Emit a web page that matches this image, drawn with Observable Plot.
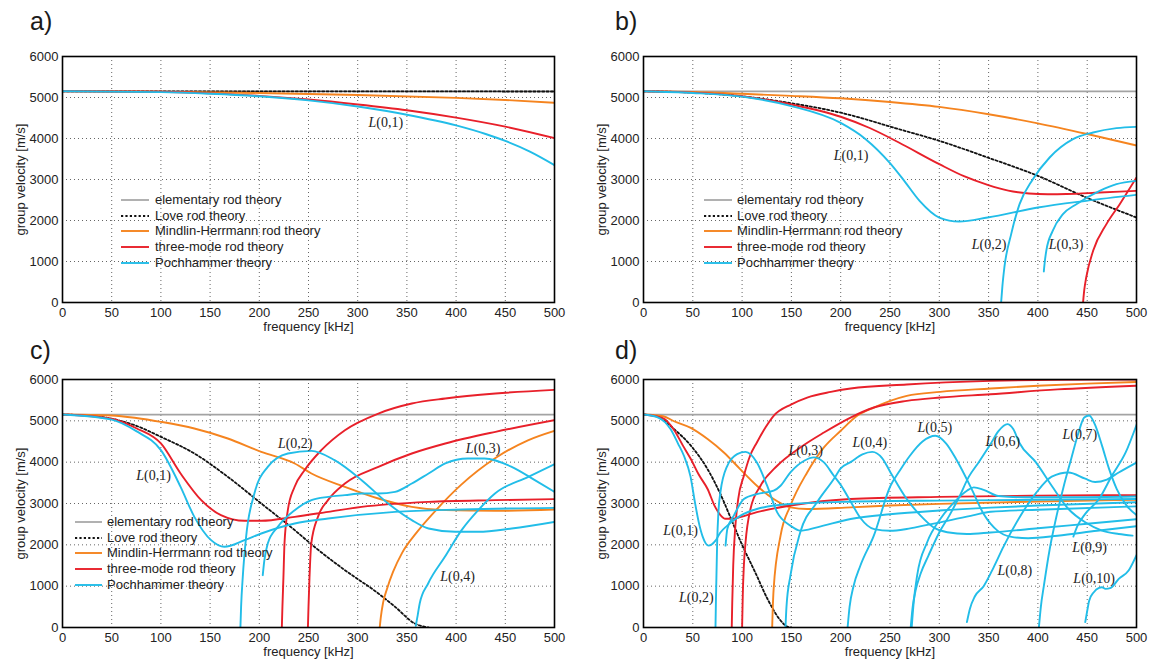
<!DOCTYPE html>
<html><head><meta charset="utf-8">
<script src="https://cdn.jsdelivr.net/npm/d3@7"></script>
<script src="https://cdn.jsdelivr.net/npm/@observablehq/plot@0.6"></script>
<style>
body{margin:0;background:#fff;font-family:"Liberation Sans",Arial,sans-serif;}
#fig{position:relative;width:1155px;height:664px;overflow:hidden;background:#fff;}
.panel{position:absolute;}
.plab{position:absolute;font-size:25px;color:#1a1a1a;line-height:1;}
.lrow{position:absolute;white-space:nowrap;font-size:13px;color:#222;height:16px;line-height:16px;}
.lrow svg{position:absolute;left:0;top:0;}
.lrow span{position:absolute;top:0;}
</style></head><body><div id="fig"></div>
<script>
// ---------- ticks & categories ----------
const xTicks = [0,50,100,150,200,250,300,350,400,450,500];
const yTicks = [0,1000,2000,3000,4000,5000,6000];
const theories = ["elementary rod theory","Love rod theory","Mindlin-Herrmann rod theory","three-mode rod theory","Pochhammer theory"];
const colors = ["#a3a3a3","#111111","#f5841f","#e8202a","#22bde8"];
const panelNames = ["a)","b)","c)","d)"];

// ---------- panel a: [frequency kHz, group velocity m/s] ----------
const A_elem = [[0,5150],[500,5150]];
const A_love = [[0,5152],[250,5150],[500,5146]];
const A_mh = [[0,5152],[100,5142],[200,5110],[300,5060],[400,4990],[450,4940],[500,4870]];
const A_three = [[0,5152],[100,5140],[150,5100],[200,5040],[250,4950],[300,4830],[350,4690],[400,4510],[450,4290],[500,4010]];
const A_poch = [[0,5152],[100,5130],[150,5090],[200,5030],[250,4930],[300,4780],[350,4580],[400,4320],[430,4110],[450,3940],[475,3680],[500,3350]];
const A_labels = [{f:329,v:4380,n:"(0,1)"}];

// ---------- panel b ----------
const B_elem = [[0,5150],[500,5150]];
const B_love = [[0,5152],[50,5120],[100,5030],[150,4860],[200,4630],[259,4228],[300,3943],[349,3537],[400,3089],[449,2561],[500,2073]];
const B_mh = [[0,5152],[50,5135],[100,5090],[150,5040],[200,4980],[250,4890],[300,4770],[350,4590],[400,4370],[450,4110],[500,3830]];
const B_three1 = [[0,5152],[50,5120],[100,5030],[150,4830],[200,4530],[230,4250],[259,3902],[300,3374],[325,3080],[349,2870],[370,2730],[391,2660],[410,2640],[429,2645],[463,2683],[500,2724]];
const B_three2 = [[445.8,0],[447,300],[449,610],[456,1260],[469.5,1911],[483,2398],[500,3049]];
const B_poch1 = [[0,5152],[50,5110],[100,5020],[150,4790],[200,4380],[225,3990],[250,3400],[265,2950],[280,2480],[300,2073],[320,1976],[349,2073],[400,2317],[449,2480],[500,2626]];
const B_poch2 = [[362.7,0],[364,400],[366,854],[372.9,1667],[381.4,2398],[394.9,3008],[411.9,3537],[435.6,3984],[456,4146],[479.7,4252],[500,4285]];
const B_poch3 = [[406,756],[407,1000],[408.5,1260],[415,1748],[425.4,2154],[439,2398],[462.7,2724],[479.7,2886],[500,2967]];
const B_labels = [{f:211,v:3585,n:"(0,1)"},{f:351,v:1420,n:"(0,2)"},{f:429,v:1420,n:"(0,3)"}];

// ---------- panel c ----------
const C_elem = [[0,5150],[500,5150]];
const C_love = [[0,5152],[25,5130],[50,5050],[75,4880],[100,4613],[134,4210],[168,3645],[202,3000],[236,2355],[256,1952],[287,1387],[321,823],[338,500],[358,97],[372,0]];
const C_mh1 = [[0,5152],[50,5130],[75,5070],[100,4976],[134,4815],[168,4573],[202,4250],[236,3968],[253,3726],[287,3403],[321,3121],[355,2919],[389,2839],[440,2823],[500,2855]];
const C_mh2 = [[322.4,0],[323.5,250],[325.8,600],[330,950],[336,1350],[345,1800],[360,2300],[380,2850],[405,3450],[440,4100],[473,4530],[500,4760]];
const C_three1 = [[0,5152],[50,5050],[75,4820],[100,4452],[120,3726],[141,3081],[161,2718],[185,2581],[202,2581],[236,2677],[270,2798],[304,2919],[372,3040],[440,3081],[500,3105]];
const C_three2 = [[222.9,0],[223.5,500],[224.5,1200],[225.6,2032],[229,2840],[235.8,3400],[246,3806],[263,4290],[287,4774],[321,5177],[355,5419],[389,5540],[440,5661],[500,5750]];
const C_three3 = [[249.4,0],[250,500],[251,1200],[252.8,2032],[259.6,2677],[269.8,3081],[287,3484],[321,3887],[355,4210],[389,4452],[440,4734],[500,5016]];
const C_poch1 = [[0,5152],[50,5030],[75,4750],[100,4290],[120,3403],[134,2677],[151,2113],[164.5,1952],[185,2113],[202,2274],[236,2516],[270,2637],[338,2798],[406,2855],[500,2895]];
const C_poch2 = [[180.8,0],[181.5,500],[183.2,1226],[186.6,2194],[195,3242],[208.6,3887],[229,4210],[253,4274],[276.5,4048],[304,3565],[331,3000],[355,2597],[372,2395],[399,2315],[422.5,2315],[456.5,2395],[500,2556]];
const C_poch3 = [[203.5,1266],[205,1600],[208.6,2032],[218.8,2435],[236,2839],[253,3081],[270,3161],[287,3202],[304,3242],[321,3242],[338,3282],[355,3484],[372,3726],[389,3968],[412,4089],[429,4089],[456.5,3887],[480,3565],[500,3282]];
const C_poch4 = [[359,40],[361,300],[363,581],[371.6,1065],[388.6,1710],[405.6,2355],[422.5,2839],[439.5,3242],[473.4,3645],[500,3952]];
const C_labels = [{f:93,v:3675,n:"(0,1)"},{f:237,v:4450,n:"(0,2)"},{f:428,v:4330,n:"(0,3)"},{f:402,v:1240,n:"(0,4)"}];

// ---------- panel d ----------
const D_elem = [[0,5150],[500,5150]];
const D_love = [[0,5152],[15,5100],[31,4800],[48,4400],[65,3830],[78,3230],[90,2560],[100,2000],[113,1350],[126,680],[138,200],[146,20],[150,0]];
const D_mh1 = [[0,5152],[20,5110],[31,4990],[48,4830],[65,4560],[81.5,4235],[98,3833],[115,3430],[132,3108],[149,2907],[166,2867],[210,2907],[250,2950],[300,2990],[400,3050],[500,3090]];
const D_mh2 = [[130.5,0],[131,400],[132,935],[139,2223],[149,2948],[166,3752],[183,4356],[200,4759],[216.7,5121],[233.6,5322],[267,5604],[301,5701],[352,5781],[400,5850],[450,5900],[500,5940]];
const D_three1 = [[0,5152],[20,5060],[31,4780],[40,4400],[48,4075],[56,3700],[65,3350],[72,2950],[78,2720],[83,2630],[90,2630],[98,2670],[115,2790],[149,2950],[210,3110],[300,3160],[400,3190],[500,3200]];
const D_three2 = [[89.5,0],[90,600],[91,1500],[93,2400],[96,3100],[101.8,3672],[108,4150],[115,4477],[124,4850],[132,5121],[150,5400],[166,5564],[190,5700],[210,5781],[267,5880],[352,5966],[420,5995],[500,6000]];
const D_three3 = [[100,0],[100.7,800],[101.8,1500],[103.5,2062],[108.5,2867],[118.7,3430],[135.6,3914],[159,4356],[183,4718],[210,5080],[233.6,5322],[267,5483],[301,5564],[352,5644],[420,5760],[500,5850]];
const D_poch1 = [[0,5152],[15,5080],[27.4,4800],[35,4450],[41,4155],[47.7,3650],[52,3050],[56,2550],[60,2200],[66,1980],[73,2100],[78,2300],[85,2465],[98.4,2706],[115,2867],[149,2988],[210,3044],[300,3070],[400,3090],[500,3110]];
const D_poch2 = [[73,0],[73.5,700],[74.7,2062],[76,2800],[78,3270],[85,3913],[95,4195],[103.5,4250],[115,3994],[125.4,3430],[135.6,2786],[149,2465],[159,2344],[176,2424],[210,2625],[250,2740],[300,2830],[352,2900],[400,2950],[500,3030]];
const D_poch3 = [[83.2,1980],[85,2384],[91.6,2706],[101.8,3108],[115,3229],[132,3310],[139,3430],[149,3752],[163,4034],[173,4115],[183,3994],[193,3672],[200,3450],[210,3050],[220,2650],[234,2380],[250,2340],[267,2384],[284,2465],[301,2545],[335,2720],[352,2800],[400,2850],[500,2930]];
const D_poch4 = [[144,0],[145,500],[149,1257],[159,2304],[176,3028],[193,3592],[200,3850],[210,4000],[222,4190],[232,4250],[242,4100],[250.5,3752],[267,3108],[281,2706],[294,2425],[308,2304],[328,2263],[352,2300],[400,2400],[450,2510],[500,2620]];
const D_poch5 = [[207,0],[209,500],[213,1000],[220,1500],[233.6,2223],[250.5,3430],[260,3800],[270,4150],[283,4500],[296,4638],[307,4450],[318,4034],[332,3390],[345,2746],[359,2344],[372,2200],[390,2160],[420,2220],[460,2340],[500,2450]];
const D_poch6 = [[271,0],[273,500],[276,900],[281,1300],[289,1740],[300,2300],[310,2700],[320,3150],[330,3650],[340,4000],[352,4440],[360,4750],[369,4920],[375,4800],[381,4477],[398,3994],[414,3430],[431,2867],[448,2545],[465,2344],[482,2263],[496,2223]];
const D_poch6b = [[272,0],[274,600],[277.5,1257],[287.7,2062],[301,2626],[315,3028],[328,3310],[335,3390],[345,3330],[360,3180],[387,3150],[430,3150],[500,3170]];
const D_poch7 = [[401,0],[403,500],[406,1000],[412,1900],[418,2600],[426,3400],[434,4100],[441,4700],[447,5080],[452,5130],[458,4900],[465,4400],[472,3850],[480,3350],[490,2950],[500,2720]];
const D_poch8 = [[328,130],[331,450],[336,750],[345,1000],[355,1450],[365,1950],[381,2650],[398,3250],[414,3650],[431,3750],[448,3600],[458,3520],[470,3580],[482,3750],[500,3990]];
const D_poch9 = [[436,2200],[440,2450],[448,2750],[462,3108],[475,3672],[489,4235],[500,4900]];
const D_poch10 = [[448,130],[450,400],[452,650],[456.7,854],[462,960],[465,975],[468.5,935],[474,960],[482,1177],[492,1378],[500,1750]];
const D_labels = [{f:38,v:2350,n:"(0,1)"},{f:54,v:720,n:"(0,2)"},{f:165,v:4270,n:"(0,3)"},{f:230,v:4480,n:"(0,4)"},{f:296,v:4840,n:"(0,5)"},{f:365,v:4500,n:"(0,6)"},{f:443,v:4680,n:"(0,7)"},{f:377,v:1380,n:"(0,8)"},{f:453,v:1940,n:"(0,9)"},{f:454,v:1180,n:"(0,10)"}];

// ---------- panel composition ----------
const panels = [
  {name:"a)", left:0, top:0, w:577, h:332, mt:56, mb:30, ml:62, mr:23,
   curves:[[A_elem],[A_love],[A_mh],[A_three],[A_poch]], labels:A_labels, legend:{x:121, len:28, tx:155, y:200}},
  {name:"b)", left:577, top:0, w:578, h:332, mt:56, mb:30, ml:66, mr:19,
   curves:[[B_elem],[B_love],[B_mh],[B_three1,B_three2],[B_poch1,B_poch2,B_poch3]], labels:B_labels, legend:{x:704, len:28, tx:737, y:200}},
  {name:"c)", left:0, top:332, w:577, h:332, mt:47, mb:37, ml:62, mr:23,
   curves:[[C_elem],[C_love],[C_mh1,C_mh2],[C_three1,C_three2,C_three3],[C_poch1,C_poch2,C_poch3,C_poch4]], labels:C_labels, legend:{x:75, len:27, tx:107, y:522}},
  {name:"d)", left:577, top:332, w:578, h:332, mt:47, mb:37, ml:66, mr:19,
   curves:[[D_elem],[D_love],[D_mh1,D_mh2],[D_three1,D_three2,D_three3],[D_poch1,D_poch2,D_poch3,D_poch4,D_poch5,D_poch6,D_poch6b,D_poch7,D_poch8,D_poch9,D_poch10]], labels:D_labels, legend:null}
];

const fig = document.getElementById("fig");

function lineStyle(k){
  if (k === 1) return {stroke: colors[1], strokeWidth: 1.8, strokeDasharray: "2.2,2.2"};
  if (k === 0) return {stroke: colors[0], strokeWidth: 1.7};
  return {stroke: colors[k], strokeWidth: 1.9};
}

for (const p of panels) {
  const div = document.createElement("div");
  div.className = "panel";
  div.style.left = p.left + "px"; div.style.top = p.top + "px";
  const marks = [
    Plot.gridX(xTicks, {stroke:"#555", strokeOpacity:0.9, strokeDasharray:"1,3"}),
    Plot.gridY(yTicks, {stroke:"#555", strokeOpacity:0.9, strokeDasharray:"1,3"}),
    Plot.axisX(xTicks, {tickSize:0, tickPadding:5, tickFormat:d=>String(d), label:"frequency [kHz]", labelAnchor:"center", labelArrow:"none", labelOffset: 28}),
    Plot.axisY(yTicks, {tickSize:0, tickPadding:4, tickFormat:d=>String(d), label:"group velocity [m/s]", labelAnchor:"center", labelArrow:"none", labelOffset: 47})
  ];
  p.curves.forEach((group, k) => {
    for (const pts of group) {
      marks.push(Plot.line(pts, {x:d=>d[0], y:d=>d[1], curve:"monotone-x", clip:true, ...lineStyle(k)}));
    }
  });
  marks.push(Plot.text(p.labels, {x:"f", y:"v", text:()=>"L", textAnchor:"end", dx:-10, fontStyle:"italic", fontFamily:"Liberation Serif, serif", fontSize:14, fill:"#222"}));
  marks.push(Plot.text(p.labels, {x:"f", y:"v", text:"n", textAnchor:"start", dx:-10, fontFamily:"Liberation Serif, serif", fontSize:14, fill:"#222"}));
  marks.push(Plot.frame({stroke:"#000", strokeWidth:1.6}));
  const svg = Plot.plot({
    width:p.w, height:p.h, marginTop:p.mt, marginBottom:p.mb, marginLeft:p.ml, marginRight:p.mr,
    x:{domain:[0,500]}, y:{domain:[0,6000]},
    style:{fontFamily:"Liberation Sans, Arial, sans-serif", fontSize:"13px", color:"#222", background:"transparent", overflow:"visible"},
    marks
  });
  div.appendChild(svg);
  fig.appendChild(div);

  const lab = document.createElement("div");
  lab.className = "plab";
  lab.textContent = p.name;
  lab.style.left = (p.left + (p.left ? 38 : 30)) + "px";
  lab.style.top = (p.top + (p.top ? 6 : 9)) + "px";
  fig.appendChild(lab);

  if (p.legend) {
    theories.forEach((t, k) => {
      const row = document.createElement("div");
      row.className = "lrow";
      const yc = p.legend.y + k * 15.7;
      row.style.left = p.legend.x + "px";
      row.style.top = (yc - 8) + "px";
      const st = lineStyle(k);
      row.innerHTML = `<svg width="${p.legend.len + 2}" height="16"><line x1="0" x2="${p.legend.len}" y1="8" y2="8" stroke="${st.stroke}" stroke-width="${st.strokeWidth}" ${st.strokeDasharray ? `stroke-dasharray="${st.strokeDasharray}"` : ""}/></svg><span style="left:${p.legend.tx - p.legend.x}px">${t}</span>`;
      fig.appendChild(row);
    });
  }
}
</script></body></html>
